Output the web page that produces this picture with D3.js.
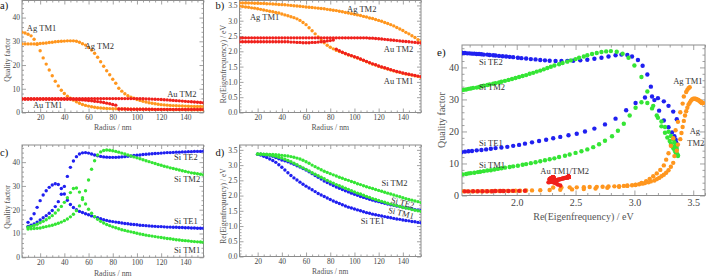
<!DOCTYPE html>
<html>
<head>
<meta charset="utf-8">
<script src="https://cdn.jsdelivr.net/npm/d3@7"></script>
<style>
  body { margin: 0; background: #fff; }
  svg { display: block; }
</style>
</head>
<body>
<svg id="chart" width="706" height="279"></svg>
<script>
// ---- metal spheres (Ag, Au), radius grid in nm ----
var metalRadius = [5,7.5,10,12.5,15,17.5,20,22.5,25,27.5,30,32.5,35,37.5,40,42.5,45,47.5,50,52.5,
  55,57.5,60,62.5,65,67.5,70,72.5,75,77.5,80,82.5,85,87.5,90,92.5,95,97.5,100,102.5,
  105,107.5,110,112.5,115,117.5,120,122.5,125,127.5,130,132.5,135,137.5,140,142.5,145,147.5,150,152.5,155];

var agTM1Q = [33.8,33.5,33.0,32.3,30.9,28.7,26.0,23.0,20.4,17.9,
  15.5,13.2,11.2,9.4,8.0,6.9,6.0,5.2,4.5,3.9,
  3.4,3.0,2.7,2.4,2.2,2.0,1.9,1.8,1.7,1.65,
  1.6,1.55,1.5,1.5,1.45,1.45,1.4,1.4,1.4,1.35,
  1.35,1.35,1.3,1.3,1.3,1.3,1.25,1.25,1.25,1.25,
  1.2,1.2,1.2,1.2,1.2,1.15,1.15,1.15,1.15,1.15,1.1];
var agTM2Q = [28.9,28.9,28.9,28.9,28.9,29.0,29.1,29.2,29.3,29.5,
  29.6,29.8,29.9,30.0,30.1,30.2,30.2,30.2,30.0,29.6,
  29.0,28.4,27.4,26.3,25.0,23.3,21.4,19.5,17.6,15.9,
  14.0,12.3,10.2,9.0,7.9,7.1,6.5,6.0,5.5,5.1,
  4.7,4.4,4.1,3.9,3.7,3.5,3.3,3.2,3.1,3.0,
  2.9,2.85,2.8,2.75,2.7,2.65,2.6,2.55,2.55,2.5,2.5];
var auTM1Q = [5.6,5.6,5.6,5.6,5.6,5.6,5.6,5.6,5.6,5.6,5.6,5.6,5.6,5.6,5.6,5.6,5.6,
  5.55,5.5,5.4,5.3,5.2,5.05,4.9,4.75,4.6,4.4,4.2,3.95,3.7,3.4,3.1,
  1.5,1.45,1.45,1.4,1.4,1.4,1.4,1.35,1.35,1.35,1.35,1.35,1.3,1.3,1.3,1.3,1.3,1.3,
  1.3,1.3,1.3,1.3,1.3,1.3,1.3,1.3,1.3,1.3,1.3];
var auTM2Q = [5.85,5.85,5.85,5.85,5.85,5.85,5.85,5.85,5.85,5.85,
  5.85,5.85,5.85,5.85,5.85,5.85,5.85,5.85,5.85,5.85,
  5.85,5.85,5.85,5.85,5.85,5.85,5.85,5.85,5.85,5.85,
  5.85,5.85,5.85,5.85,5.85,5.85,5.85,5.85,
  5.85,5.8,5.8,5.75,5.7,5.65,5.6,5.55,5.5,5.4,5.3,5.2,5.1,5.0,4.9,4.8,4.7,4.6,4.5,4.4,4.3,4.2,4.1];

var agTM1E = [3.47,3.46,3.45,3.44,3.42,3.41,3.39,3.37,3.35,3.33,
  3.31,3.29,3.27,3.25,3.22,3.19,3.16,3.13,3.10,3.06,
  3.01,2.94,2.87,2.77,2.67,2.57,2.47,2.37,2.28,2.20,
  2.13,2.08,2.03,1.99,1.96,1.92,1.88,1.85,1.81,1.78,
  1.74,1.70,1.66,1.62,1.58,1.55,1.51,1.48,1.45,1.42,
  1.39,1.36,1.33,1.31,1.28,1.26,1.24,1.22,1.20,1.18,1.16];
var agTM2E = [3.58,3.58,3.58,3.58,3.575,3.57,3.57,3.565,3.56,3.555,
  3.55,3.545,3.54,3.53,3.525,3.52,3.51,3.50,3.49,3.48,
  3.47,3.46,3.45,3.44,3.43,3.42,3.41,3.40,3.39,3.37,
  3.36,3.34,3.33,3.31,3.29,3.27,3.25,3.23,3.21,3.19,
  3.17,3.14,3.12,3.09,3.07,3.04,3.01,2.98,2.94,2.91,
  2.87,2.83,2.78,2.73,2.68,2.62,2.57,2.51,2.45,2.38,2.31];
var auTM1E = [2.31,2.31,2.31,2.31,2.31,2.31,2.31,2.31,2.31,2.31,2.31,2.31,2.31,2.31,2.31,2.31,2.31,
  2.30,2.30,2.29,2.29,2.28,2.28,2.28,2.29,2.29,2.30,2.31,2.32,2.34,2.35,2.37,
  2.07,2.02,1.97,1.93,1.89,1.86,1.82,1.79,1.75,1.71,1.67,1.63,1.59,1.56,1.52,1.49,1.46,1.43,1.40,1.37,
  1.34,1.32,1.29,1.27,1.25,1.23,1.21,1.19,1.17];
var auTM2E = [2.44,2.44,2.44,2.44,2.44,2.44,2.44,2.44,2.44,2.44,2.44,2.44,2.44,2.44,2.44,2.44,2.44,2.44,2.44,2.44,
  2.44,2.44,2.44,2.44,2.44,2.44,2.44,2.44,2.44,2.44,2.44,2.44,2.44,2.44,2.44,2.44,2.44,2.44,2.44,2.44,2.44,2.44,2.44,
  2.43,2.43,2.42,2.41,2.40,2.39,2.38,2.37,2.36,2.35,2.34,2.33,2.32,2.31,2.30,2.29,2.28,2.27];

// ---- Si spheres, radius grid in nm (no frequency read below 20 nm) ----
var siRadius = [10,12.5,15,17.5,
  20,22.5,25,27.5,30,32.5,35,37.5,40,42.5,45,47.5,50,52.5,55,57.5,60,62.5,65,67.5,
  70,72.5,75,77.5,80,82.5,85,87.5,90,92.5,95,97.5,100,102.5,105,107.5,110,112.5,115,117.5,
  120,122.5,125,127.5,130,132.5,135,137.5,140,142.5,145,147.5,150,152.5,155,
  157.5,160,162.5,165,167.5,170,172.5,175,177.5,180,182.5,185];

var siTE1Q = [14.7,16.2,18.3,21.0,
  23.8,26.2,28.0,29.4,30.4,30.9,30.6,28.9,26.6,24.0,
  22.2,20.9,20.0,19.3,18.8,18.3,17.9,17.4,17.0,16.6,
  16.2,15.8,15.5,15.2,15.0,14.8,14.6,14.4,14.2,14.1,
  13.9,13.8,13.7,13.5,13.4,13.3,13.2,13.1,13.0,12.9,
  12.9,12.8,12.7,12.7,12.6,12.6,12.5,12.5,12.4,12.4,
  12.3,12.3,12.2,12.2,12.2];
var siTE2Q = [13.0,13.5,14.0,14.8,
  15.7,16.6,17.5,18.5,19.7,21.3,23.4,26.5,29.8,34.0,
  37.8,40.5,42.3,43.4,43.9,44.0,43.8,43.4,43.0,42.7,
  42.4,42.2,42.1,42.0,42.0,42.0,42.1,42.2,42.3,42.5,
  42.6,42.8,42.9,43.0,43.2,43.3,43.4,43.5,43.6,43.7,
  43.8,43.9,44.0,44.0,44.1,44.2,44.2,44.3,44.3,44.4,
  44.4,44.5,44.5,44.5,44.6];
var siTM1Q = [12.6,13.0,13.4,13.9,
  14.5,15.1,15.8,16.6,17.5,18.6,19.9,21.4,23.1,25.0,
  27.2,28.9,29.1,27.4,25.0,22.4,20.2,18.5,17.1,16.0,
  15.1,14.4,13.8,13.3,12.8,12.4,12.0,11.6,11.3,11.0,
  10.7,10.4,10.1,9.8,9.6,9.3,9.1,8.9,8.7,8.5,
  8.3,8.1,7.9,7.8,7.6,7.4,7.3,7.1,7.0,6.9,
  6.7,6.6,6.5,6.4,6.3];
var siTM2Q = [11.9,12.0,12.1,12.2,
  12.3,12.6,12.9,13.2,13.5,13.9,14.3,14.8,15.4,16.1,
  17.0,18.1,19.6,21.6,24.3,28.0,32.5,37.0,40.6,43.0,
  44.3,44.9,45.1,45.0,44.8,44.5,44.2,43.8,43.4,43.0,
  42.6,42.2,41.8,41.4,41.0,40.6,40.2,39.8,39.4,39.0,
  38.7,38.3,38.0,37.6,37.3,37.0,36.7,36.4,36.1,35.8,
  35.5,35.3,35.1,34.9,34.7,
  34.5,34.3,34.1,33.9,33.7,33.6,33.4,33.3,33.1,33.0,32.9,32.8];

var siTE1E = [null,null,null,null,
  3.36,3.33,3.29,3.25,3.20,3.15,3.09,3.01,2.93,2.84,
  2.75,2.66,2.58,2.51,2.44,2.37,2.31,2.25,2.19,2.13,
  2.07,2.02,1.97,1.92,1.87,1.82,1.78,1.74,1.70,1.66,
  1.62,1.59,1.56,1.53,1.50,1.47,1.44,1.42,1.39,1.37,
  1.35,1.33,1.31,1.29,1.27,1.25,1.23,1.22,1.20,1.18,
  1.17,1.15,1.14,1.12,1.11];
var siTE2E = [null,null,null,null,
  3.36,3.355,3.35,3.34,3.32,3.29,3.25,3.21,3.17,3.14,
  3.11,3.07,3.03,2.98,2.94,2.89,2.84,2.78,2.72,2.66,
  2.60,2.54,2.48,2.43,2.38,2.33,2.28,2.24,2.20,2.16,
  2.12,2.08,2.04,2.01,1.97,1.94,1.91,1.88,1.85,1.82,
  1.80,1.77,1.75,1.72,1.70,1.68,1.66,1.64,1.62,1.60,
  1.58,1.56,1.54,1.53,1.51];
var siTM1E = [null,null,null,null,
  3.36,3.355,3.35,3.34,3.33,3.31,3.29,3.26,3.23,3.19,
  3.15,3.11,3.06,3.01,2.96,2.91,2.86,2.81,2.75,2.70,
  2.65,2.60,2.55,2.50,2.45,2.41,2.36,2.32,2.28,2.24,
  2.20,2.16,2.12,2.08,2.05,2.01,1.97,1.94,1.90,1.87,
  1.84,1.81,1.78,1.75,1.72,1.69,1.67,1.64,1.61,1.59,
  1.57,1.54,1.52,1.50,1.48];
var siTM2E = [null,null,null,null,
  3.37,3.37,3.36,3.36,3.35,3.35,3.34,3.33,3.32,3.31,
  3.30,3.28,3.26,3.23,3.20,3.16,3.11,3.06,3.00,2.95,
  2.90,2.85,2.80,2.76,2.72,2.68,2.64,2.60,2.57,2.53,
  2.50,2.46,2.43,2.39,2.36,2.32,2.29,2.26,2.23,2.20,
  2.17,2.14,2.11,2.08,2.05,2.02,1.99,1.96,1.93,1.90,
  1.87,1.85,1.82,1.80,1.77,
  1.75,1.72,1.70,1.68,1.66,1.63,1.61,1.59,1.57,1.55,1.53,1.51];

// ---- ticks ----
var radiusTicks = [20,40,60,80,100,120,140];
var qualityTicks = [0,10,20,30,40];
var energyTicks = [0,0.5,1,1.5,2,2.5,3,3.5];
var eFreqTicks = [2,2.5,3,3.5];

var ORANGE = "#ff961e", RED = "#f0211c", BLUE = "#2020f0", GREEN = "#35e535";
var FRAME = "#8c8c8c";
var SERIF = "'Liberation Serif', 'Times New Roman', serif";

var svg = d3.select("#chart");

/**
 * Frame with inward ticks on all four sides
 */
function makePanel(p) {
  var x = d3.scaleLinear().domain(p.xDomain).range([p.left, p.right]);
  var y = d3.scaleLinear().domain(p.yDomain).range([p.bottom, p.top]);
  var g = svg.append("g");

  g.append("clipPath").attr("id", "clip-" + p.id)
    .append("rect")
    .attr("x", p.left).attr("y", p.top)
    .attr("width", p.right - p.left).attr("height", p.bottom - p.top);

  function minors(domain, step, majors) {
    var start = Math.ceil(domain[0] / step - 1e-6) * step;
    return d3.range(start, domain[1] + 1e-9, step)
      .filter(function(v) { return majors.every(function(t) { return Math.abs(t - v) > 1e-6; }); });
  }
  var xMinor = minors(p.xDomain, p.xMinorStep, p.xTicks);
  var yMinor = minors(p.yDomain, p.yMinorStep, p.yTicks);

  var axes = g.append("g");
  axes.append("g").attr("transform", "translate(0," + p.bottom + ")")
    .call(d3.axisBottom(x).tickValues(p.xTicks).tickSize(-p.major).tickPadding(p.pad).tickFormat(p.xFormat));
  axes.append("g").attr("transform", "translate(0," + p.bottom + ")")
    .call(d3.axisBottom(x).tickValues(xMinor).tickSize(-p.minor).tickFormat(""));
  axes.append("g").attr("transform", "translate(0," + p.top + ")")
    .call(d3.axisTop(x).tickValues(p.xTicks).tickSize(-p.major).tickFormat(""));
  axes.append("g").attr("transform", "translate(0," + p.top + ")")
    .call(d3.axisTop(x).tickValues(xMinor).tickSize(-p.minor).tickFormat(""));
  axes.append("g").attr("transform", "translate(" + p.left + ",0)")
    .call(d3.axisLeft(y).tickValues(p.yTicks).tickSize(-p.major).tickPadding(p.pad).tickFormat(p.yFormat));
  axes.append("g").attr("transform", "translate(" + p.left + ",0)")
    .call(d3.axisLeft(y).tickValues(yMinor).tickSize(-p.minor).tickFormat(""));
  axes.append("g").attr("transform", "translate(" + p.right + ",0)")
    .call(d3.axisRight(y).tickValues(p.yTicks).tickSize(-p.major).tickFormat(""));
  axes.append("g").attr("transform", "translate(" + p.right + ",0)")
    .call(d3.axisRight(y).tickValues(yMinor).tickSize(-p.minor).tickFormat(""));

  axes.selectAll(".domain").remove();
  axes.selectAll(".tick line").attr("stroke", FRAME).attr("stroke-width", 0.8);
  axes.selectAll("g").attr("font-family", SERIF);
  axes.selectAll(".tick text")
    .attr("fill", "#444")
    .attr("font-family", SERIF)
    .attr("font-size", p.tickFont);

  g.append("rect")
    .attr("x", p.left).attr("y", p.top)
    .attr("width", p.right - p.left).attr("height", p.bottom - p.top)
    .attr("fill", "none").attr("stroke", FRAME).attr("stroke-width", 1);

  var plot = g.append("g").attr("clip-path", "url(#clip-" + p.id + ")");

  g.append("text")
    .attr("x", (p.left + p.right) / 2).attr("y", p.xTitleY)
    .attr("text-anchor", "middle")
    .attr("fill", "#555")
    .attr("font-family", SERIF)
    .attr("font-size", p.titleFont)
    .text(p.xTitle);
  g.append("text")
    .attr("transform", "translate(" + p.yTitleX + "," + p.yTitleCY + ") rotate(-90)")
    .attr("text-anchor", "middle")
    .attr("fill", "#555")
    .attr("font-family", SERIF)
    .attr("font-size", p.titleFont)
    .text(p.yTitle);
  g.append("text")
    .attr("x", p.tag[0]).attr("y", p.tag[1])
    .attr("fill", "#111")
    .attr("font-family", SERIF)
    .attr("font-size", p.tagFont)
    .text(p.tag[2]);

  return { x: x, y: y, g: g, plot: plot };
}

function drawDots(panel, xs, ys, color, r) {
  var idx = d3.range(Math.min(xs.length, ys.length))
    .filter(function(i) { return xs[i] != null && ys[i] != null; });
  panel.plot.append("g")
    .selectAll("circle")
    .data(idx)
    .enter().append("circle")
    .attr("cx", function(i) { return panel.x(xs[i]); })
    .attr("cy", function(i) { return panel.y(ys[i]); })
    .attr("r", r)
    .attr("fill", color);
}

function addLabel(panel, xv, yv, txt, size, rot) {
  var t = panel.g.append("text")
    .attr("fill", "#333")
    .attr("font-family", SERIF)
    .attr("font-size", size)
    .text(txt);
  var px = panel.x(xv), py = panel.y(yv);
  if (rot) {
    t.attr("transform", "translate(" + px + "," + py + ") rotate(" + rot + ")");
  } else {
    t.attr("x", px).attr("y", py);
  }
}

var intFmt = d3.format("d");
var oneDec = d3.format(".1f");

var common = {
  xDomain: [5, 155], xTicks: radiusTicks, xMinorStep: 5, xFormat: intFmt,
  major: 4, minor: 2, pad: 2, tickFont: 7.5, titleFont: 7.8, tagFont: 10.5,
  xTitle: "Radius / nm"
};

// a) quality factor, metal spheres
var pa = makePanel(Object.assign({}, common, {
  id: "a", left: 22, right: 203.5, top: 0.5, bottom: 112.5,
  yDomain: [0, 47.2], yTicks: qualityTicks, yMinorStep: 2, yFormat: intFmt,
  xTitleY: 130, yTitle: "Quality factor", yTitleX: 9.5, yTitleCY: 60,
  tag: [0, 9, "a)"]
}));
drawDots(pa, metalRadius, agTM1Q, ORANGE, 1.7);
drawDots(pa, metalRadius, agTM2Q, ORANGE, 1.7);
drawDots(pa, metalRadius, auTM1Q, RED, 1.7);
drawDots(pa, metalRadius, auTM2Q, RED, 1.7);
addLabel(pa, 9, 34.3, "Ag TM1", 8.5);
addLabel(pa, 56.8, 26.7, "Ag TM2", 8.5);
addLabel(pa, 125, 6.6, "Au TM2", 8.5);
addLabel(pa, 14, 1.9, "Au TM1", 8.5);

// b) eigenfrequency, metal spheres
var pb = makePanel(Object.assign({}, common, {
  id: "b", left: 239.5, right: 421, top: 0.5, bottom: 112.5,
  yDomain: [0, 3.66], yTicks: energyTicks, yMinorStep: 0.1, yFormat: oneDec,
  xTitleY: 130, yTitle: "Re(Eigenfrequency) / eV", yTitleX: 225.5, yTitleCY: 64,
  tag: [215.5, 9, "b)"]
}));
drawDots(pb, metalRadius, agTM1E, ORANGE, 1.7);
drawDots(pb, metalRadius, agTM2E, ORANGE, 1.7);
drawDots(pb, metalRadius, auTM1E, RED, 1.7);
drawDots(pb, metalRadius, auTM2E, RED, 1.7);
addLabel(pb, 93.9, 3.29, "Ag TM2", 8.5);
addLabel(pb, 13.6, 3.03, "Ag TM1", 8.5);
addLabel(pb, 124.3, 1.99, "Au TM2", 8.5);
addLabel(pb, 124.3, 0.93, "Au TM1", 8.5);

// c) quality factor, Si spheres
var pc = makePanel(Object.assign({}, common, {
  id: "c", left: 22, right: 203.5, top: 145, bottom: 257.3,
  yDomain: [0, 47.2], yTicks: qualityTicks, yMinorStep: 2, yFormat: intFmt,
  xTitleY: 275.5, yTitle: "Quality factor", yTitleX: 9.5, yTitleCY: 207,
  tag: [0, 156, "c)"]
}));
drawDots(pc, siRadius, siTE1Q, BLUE, 1.7);
drawDots(pc, siRadius, siTE2Q, BLUE, 1.7);
drawDots(pc, siRadius, siTM1Q, GREEN, 1.7);
drawDots(pc, siRadius, siTM2Q, GREEN, 1.7);
addLabel(pc, 130.7, 40.7, "Si TE2", 8.5);
addLabel(pc, 130.7, 31.8, "Si TM2", 8.5);
addLabel(pc, 130.7, 14.0, "Si TE1", 8.5);
addLabel(pc, 130.7, 1.9, "Si TM1", 8.5);

// d) eigenfrequency, Si spheres
var pd = makePanel(Object.assign({}, common, {
  id: "d", left: 239.5, right: 421, top: 145, bottom: 256.5,
  yDomain: [0, 3.66], yTicks: energyTicks, yMinorStep: 0.1, yFormat: oneDec,
  xTitleY: 274, yTitle: "Re(Eigenfrequency) / eV", yTitleX: 225.5, yTitleCY: 206,
  titleFont: 7.5,
  tag: [215.5, 156, "d)"]
}));
drawDots(pd, siRadius, siTE1E, BLUE, 1.7);
drawDots(pd, siRadius, siTE2E, BLUE, 1.7);
drawDots(pd, siRadius, siTM1E, GREEN, 1.7);
drawDots(pd, siRadius, siTM2E, GREEN, 1.7);
addLabel(pd, 122.4, 2.30, "Si TM2", 8.5);
addLabel(pd, 129.8, 1.77, "Si TE2", 8.5, 14);
addLabel(pd, 127.5, 1.44, "Si TM1", 8.5, 14);
addLabel(pd, 105.2, 1.07, "Si TE1", 8.5);

// e) quality factor against eigenfrequency
var pe = makePanel({
  id: "e", left: 462, right: 705, top: 45, bottom: 195.5,
  xDomain: [1.535, 3.6], xTicks: eFreqTicks, xMinorStep: 0.1, xFormat: oneDec,
  yDomain: [0, 47], yTicks: qualityTicks, yMinorStep: 2, yFormat: intFmt,
  major: 5, minor: 2.5, pad: 3, tickFont: 10, titleFont: 10, tagFont: 11,
  xTitle: "Re(Eigenfrequency) / eV", xTitleY: 220,
  yTitle: "Quality factor", yTitleX: 445, yTitleCY: 120,
  tag: [437, 56, "e)"]
});
drawDots(pe, siTE1E, siTE1Q, BLUE, 2.2);
drawDots(pe, siTE2E, siTE2Q, BLUE, 2.2);
drawDots(pe, siTM1E, siTM1Q, GREEN, 2.2);
drawDots(pe, siTM2E, siTM2Q, GREEN, 2.2);
drawDots(pe, agTM1E, agTM1Q, ORANGE, 2.2);
drawDots(pe, agTM2E, agTM2Q, ORANGE, 2.2);
drawDots(pe, auTM1E, auTM1Q, RED, 2.2);
drawDots(pe, auTM2E, auTM2Q, RED, 2.2);
addLabel(pe, 1.68, 40.8, "Si TE2", 8.5);
addLabel(pe, 1.68, 32.8, "Si TM2", 8.5);
addLabel(pe, 1.68, 15.5, "Si TE1", 8.5);
addLabel(pe, 1.68, 8.6, "Si TM1", 8.5);
addLabel(pe, 3.33, 34.8, "Ag TM1", 8.5);
addLabel(pe, 3.47, 19.2, "Ag", 8.5);
addLabel(pe, 3.45, 15.5, "TM2", 8.5);
addLabel(pe, 2.2, 6.6, "Au TM1/TM2", 8.5);
</script>
</body>
</html>
